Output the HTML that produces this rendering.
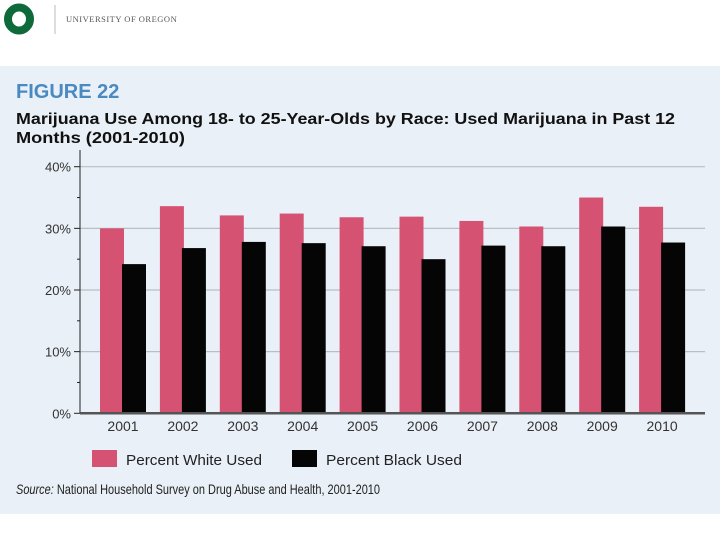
<!DOCTYPE html>
<html><head><meta charset="utf-8"><style>
body{margin:0;width:720px;height:540px;background:#fff;overflow:hidden;font-family:"Liberation Sans Narrow","Liberation Sans",sans-serif;}
</style></head><body>
<svg width="720" height="540" xmlns="http://www.w3.org/2000/svg">
<g>
<ellipse cx="19" cy="19" rx="11" ry="11.5" fill="none" stroke="#0e6a3a" stroke-width="8"/>
<line x1="55" y1="5" x2="55" y2="34" stroke="#bbb" stroke-width="1"/>
<text x="66" y="22" font-family="Liberation Serif, serif" font-size="8.5" fill="#555" letter-spacing="0.5">UNIVERSITY OF OREGON</text>
</g>
<rect x="0" y="66" width="720" height="448" fill="#e9f0f7"/>
<text x="16" y="98" font-size="20" font-weight="bold" fill="#4a8ac0">FIGURE 22</text>
<text font-size="16" font-weight="bold" fill="#111"><tspan x="16" y="124" textLength="659" lengthAdjust="spacingAndGlyphs">Marijuana Use Among 18- to 25-Year-Olds by Race: Used Marijuana in Past 12</tspan><tspan x="16" y="143" textLength="169" lengthAdjust="spacingAndGlyphs">Months (2001-2010)</tspan></text>
<g id="plot"></g>
<g>
<rect x="92" y="450" width="25" height="17" fill="#d65272"/>
<text x="126" y="465" font-size="15" fill="#222" textLength="136" lengthAdjust="spacingAndGlyphs">Percent White Used</text>
<rect x="292" y="450" width="25" height="17" fill="#050505"/>
<text x="326" y="465" font-size="15" fill="#222" textLength="136" lengthAdjust="spacingAndGlyphs">Percent Black Used</text>
</g>
<text x="16" y="494" font-size="14" fill="#222" textLength="364" lengthAdjust="spacingAndGlyphs"><tspan font-style="italic">Source:</tspan> National Household Survey on Drug Abuse and Health, 2001-2010</text>
</svg>
<script>
const years=["2001","2002","2003","2004","2005","2006","2007","2008","2009","2010"];
const whiteVals=[30.0,33.6,32.1,32.4,31.8,31.9,31.2,30.3,35.0,33.5];
const blackVals=[24.2,26.8,27.8,27.6,27.1,25.0,27.2,27.1,30.3,27.7];
const yTicks=[0,10,20,30,40];
const yTickLabels=["0%","10%","20%","30%","40%"];
const NS="http://www.w3.org/2000/svg";
const g=document.getElementById('plot');
const y0=413.3,yTop=166.7,axisX=80,right=705;
function y(v){return y0-(v/40)*(y0-yTop);}
function xc(i){return 123+i*59.9;}
function mk(t,a){const e=document.createElementNS(NS,t);for(const k in a)e.setAttribute(k,a[k]);g.appendChild(e);return e;}
yTicks.forEach((t,i)=>{
 if(t>0){const l=mk('line',{x1:axisX,x2:right,y1:y(t),y2:y(t),stroke:'#b9bec4','stroke-width':1.2});
 
 }
 const tk=mk('line',{x1:axisX-6,x2:axisX,y1:y(t),y2:y(t),stroke:'#222','stroke-width':1});
 
 
 const m=mk('line',{x1:axisX-3,x2:axisX,y1:y(t+5),y2:y(t+5),stroke:'#222','stroke-width':1});
 
 
 const tx=mk('text',{x:axisX-9,y:y(t)+5,'text-anchor':'end','font-size':13,fill:'#333'});
 tx.textContent=yTickLabels[i];
 
 
});
years.forEach((yr,i)=>{
 const c=xc(i);
 const w=mk('rect',{x:c-23,y:y(whiteVals[i]),width:24,height:y0-y(whiteVals[i]),fill:'#d65272'});
 
 
 const b=mk('rect',{x:c-1,y:y(blackVals[i]),width:24,height:y0-y(blackVals[i]),fill:'#050505'});
 
 
 const t=mk('text',{x:c,y:431,'text-anchor':'middle','font-size':14,fill:'#333'});
 t.textContent=yr;
 
 
});
const ax=mk('line',{x1:axisX,x2:axisX,y1:150,y2:y0,stroke:'#222','stroke-width':1});


const bx=mk('line',{x1:axisX,x2:right,y1:y0,y2:y0,stroke:'#555','stroke-width':2.5});


</script>
</body></html>
